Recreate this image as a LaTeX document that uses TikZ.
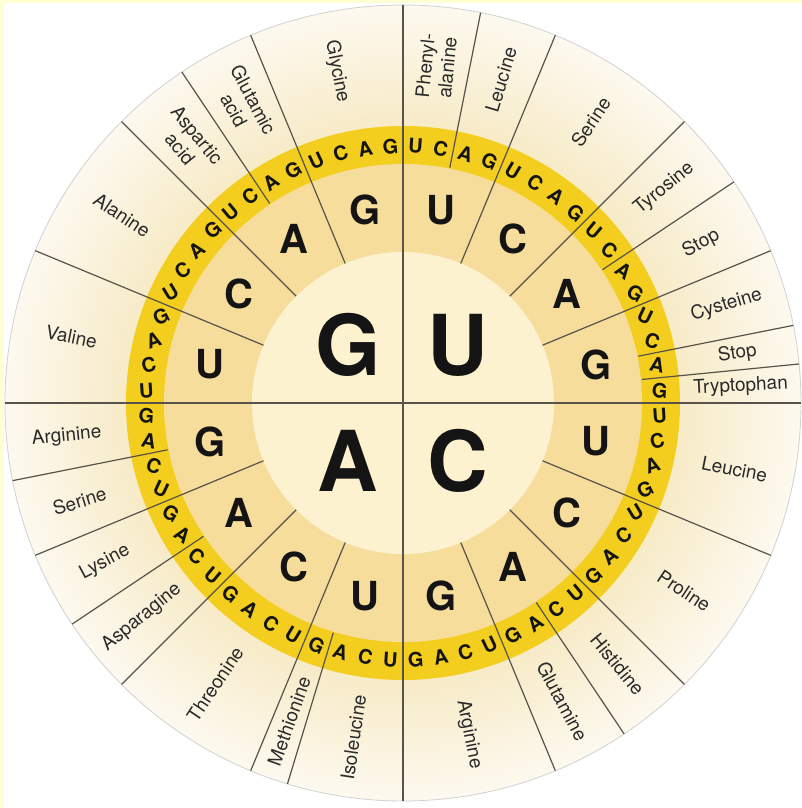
\documentclass[tikz,border=0pt]{standalone}
\usepackage{fontspec}
\setmainfont{TeX Gyre Heros}
\usepackage{tikz}
\usetikzlibrary{calc}

\definecolor{paleborder}{HTML}{FFFFD4}
\definecolor{ringin}{HTML}{F7EBC8}
\definecolor{ringout}{HTML}{FDF9EF}
\definecolor{thirdring}{HTML}{F3CE1E}
\definecolor{secondring}{HTML}{F7DD9B}
\definecolor{firstdisk}{HTML}{FCF2CF}
\definecolor{linegray}{HTML}{57534A}
\definecolor{basetext}{HTML}{141414}
\definecolor{aminotext}{HTML}{2A2A2A}

\pgfdeclareradialshading{aminoring}{\pgfpointorigin}{color(0bp)=(ringin);
  color(17.6bp)=(ringin); color(25bp)=(ringout); color(50bp)=(ringout)}

\begin{document}
\begin{tikzpicture}[
    x=1pt, y=1pt,
    sep/.style={draw=linegray, line width=1.2pt},
    base1/.style={font=\fontsize{84}{84}\selectfont\bfseries, text=basetext, inner sep=0pt},
    base2/.style={font=\fontsize{40}{40}\selectfont\bfseries, text=basetext, inner sep=0pt},
    base3/.style={font=\fontsize{20}{20}\selectfont\bfseries, text=basetext, inner sep=0pt},
    amino/.style={font=\fontsize{19}{22}\selectfont, text=aminotext, align=center, inner sep=0pt},
]
\useasboundingbox (-403,-405) rectangle (399,403);

%% Fons i marc
\fill[paleborder] (-403,-405) rectangle (399,403);
\fill[white] (-399,-405) rectangle (399,400);

%% Anells
\shade[shading=aminoring] (0,0) circle (398);
\draw[black!18, line width=0.8pt] (0,0) circle (398);
\fill[thirdring] (0,0) circle (277);
\fill[secondring] (0,0) circle (239);
\fill[firstdisk] (0,0) circle (151);

%% Separadors
\draw[sep] (90:398) -- (-90:398);
\draw[sep] (180:398) -- (0:398);
\foreach \k in {4,8,12,20,24,28,36,40,44,52,56,60}
  \draw[sep] ({90-5.625*\k}:151) -- ({90-5.625*\k}:398);
\foreach \k in {2,10,14,15,26,35,42,46,58}
  \draw[sep] ({90-5.625*\k}:240) -- ({90-5.625*\k}:398);

%% Primera base
\node[base1] (b1-U) at (55,58)   {U};
\node[base1] (b1-C) at (55,-58)  {C};
\node[base1] (b1-A) at (-55,-58) {A};
\node[base1] (b1-G) at (-55,58)  {G};

%% Segona i tercera base
\foreach \q in {0,...,3}
  \foreach \s/\b in {0/U,1/C,2/A,3/G} {
    \pgfmathsetmacro\a{90-90*\q-22.5*\s-11.25}
    \node[base2] (b2-\q-\s) at (\a:197) {\b};
    \foreach \t/\c in {0/U,1/C,2/A,3/G} {
      \pgfmathsetmacro\at{90-90*\q-22.5*\s-5.625*\t-2.8125}
      \pgfmathsetmacro\rot{-40*sin(2*\at)}
      \node[base3, rotate=\rot] (b3-\q-\s-\t) at (\at:257) {\c};
    }
  }

%% Aminoacids
\foreach \n/\kc/\lab in {phe/1/{Phenyl-\\alanine}, leu1/3/Leucine, ser1/6/Serine,
    tyr/9/Tyrosine, stop1/11/Stop, cys/13/Cysteine, stop2/14.5/Stop,
    trp/15.5/Tryptophan, leu2/18/Leucine, pro/22/Proline, his/25/Histidine,
    gln/27/Glutamine, arg1/30/Arginine, ile/33.5/Isoleucine,
    met/35.5/Methionine, thr/38/Threonine, asn/41/Asparagine, lys/43/Lysine,
    ser2/45/Serine, arg2/47/Arginine, val/50/Valine, ala/54/Alanine,
    asp/57/{Aspartic\\acid}, glu/59/{Glutamic\\acid}, gly/62/Glycine} {
  \pgfmathsetmacro\a{90-5.625*\kc}
  \pgfmathsetmacro\rot{\a<-90 ? \a+180 : \a}
  \node[amino, rotate=\rot] (aa-\n) at (\a:338) {\lab};
}

\end{tikzpicture}
\end{document}
